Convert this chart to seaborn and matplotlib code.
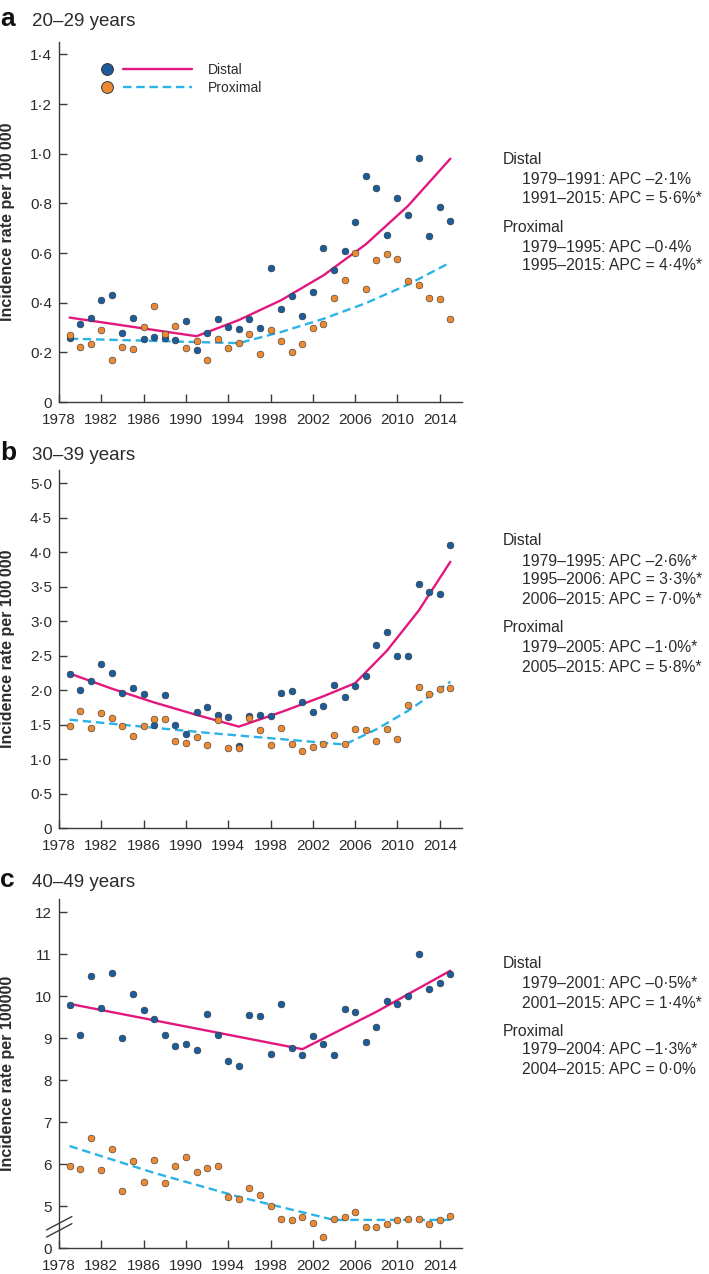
import numpy as np
import pandas as pd
import matplotlib
matplotlib.use("Agg")
import matplotlib.pyplot as plt
import seaborn as sns
from matplotlib.lines import Line2D
from matplotlib.transforms import blended_transform_factory

# ---------------- data ----------------
years = list(range(1979, 2016))

a_distal = [0.257, 0.316, 0.340, 0.410, 0.430, 0.279, 0.340, 0.254, 0.262, 0.259,
            0.249, 0.325, 0.210, 0.277, 0.335, 0.304, 0.296, 0.335, 0.300, 0.539,
            0.375, 0.426, 0.348, 0.445, 0.619, 0.532, 0.609, 0.727, 0.911, 0.863,
            0.674, 0.822, 0.755, 0.983, 0.668, 0.787, 0.731]
a_proximal = [0.271, 0.223, 0.235, 0.289, 0.171, 0.222, 0.215, 0.302, 0.388, 0.274,
              0.306, 0.218, 0.246, 0.171, 0.253, 0.218, 0.238, 0.273, 0.193, 0.289,
              0.246, 0.203, 0.235, 0.297, 0.314, 0.417, 0.493, 0.599, 0.457, 0.572,
              0.598, 0.576, 0.488, 0.472, 0.419, 0.415, 0.333]
a_distal_fit_years = [1979, 1983, 1987, 1991, 1995, 1999, 2003, 2007, 2011, 2015]
a_distal_fit = [0.34, 0.315, 0.29, 0.265, 0.33, 0.41, 0.51, 0.635, 0.79, 0.98]
a_prox_fit_years = [1979, 1987, 1995, 1999, 2003, 2007, 2011, 2015]
a_prox_fit = [0.255, 0.246, 0.237, 0.282, 0.335, 0.398, 0.473, 0.562]

b_distal = [2.232, 2.005, 2.130, 2.372, 2.246, 1.961, 2.029, 1.947, 1.493, 1.928,
            1.493, 1.362, 1.681, 1.749, 1.638, 1.604, 1.193, 1.618, 1.638, 1.618,
            1.952, 1.990, 1.826, 1.681, 1.768, 2.068, 1.899, 2.058, 2.198, 2.647,
            2.841, 2.488, 2.488, 3.536, 3.415, 3.386, 4.106]
b_proximal = [1.478, 1.700, 1.444, 1.671, 1.594, 1.483, 1.329, 1.478, 1.585, 1.580,
              1.256, 1.227, 1.324, 1.198, 1.560, 1.159, 1.159, 1.589, 1.425, 1.203,
              1.444, 1.222, 1.121, 1.174, 1.222, 1.348, 1.222, 1.430, 1.415, 1.266,
              1.440, 1.290, 1.783, 2.039, 1.937, 2.019, 2.034]
b_distal_fit_years = [1979, 1983, 1987, 1991, 1995, 1999, 2003, 2006, 2009, 2012, 2015]
b_distal_fit = [2.24, 2.02, 1.82, 1.64, 1.47, 1.68, 1.91, 2.10, 2.57, 3.15, 3.86]
b_prox_fit_years = [1979, 1992, 2005, 2008, 2011, 2015]
b_prox_fit = [1.57, 1.38, 1.21, 1.43, 1.70, 2.12]

c_distal = [9.786, 9.071, 10.49, 9.722, 10.556, 9.016, 10.056, 9.675, 9.452, 9.087,
            8.825, 8.857, 8.722, 9.579, 9.071, 8.468, 8.341, 9.563, 9.524, 8.619,
            9.810, 8.770, 8.603, 9.056, 8.857, 8.595, 9.698, 9.635, 8.913, 9.278,
            9.897, 9.825, 10.016, 11.0, 10.167, 10.325, 10.532]
c_proximal = [5.960, 5.873, 6.611, 5.865, 6.357, 5.357, 6.063, 5.571, 6.087, 5.548,
              5.960, 6.175, 5.810, 5.905, 5.960, 5.214, 5.159, 5.421, 5.262, 5.008,
              4.690, 4.667, 4.738, 4.587, 4.270, 4.683, 4.730, 4.865, 4.492, 4.508,
              4.579, 4.659, 4.698, 4.698, 4.579, 4.659, 4.762]
c_distal_fit_years = [1979, 1990, 2001, 2008, 2015]
c_distal_fit = [9.82, 9.28, 8.74, 9.63, 10.61]
c_prox_fit_years = [1979, 1987, 1995, 2004, 2015]
c_prox_fit = [6.43, 5.79, 5.22, 4.67, 4.67]

x_ticks = [1978, 1982, 1986, 1990, 1994, 1998, 2002, 2006, 2010, 2014]
a_yticks = [0, 0.2, 0.4, 0.6, 0.8, 1.0, 1.2, 1.4]
a_ytick_labels = ["0", "0·2", "0·4", "0·6", "0·8", "1·0", "1·2", "1·4"]
b_yticks = [0, 0.5, 1.0, 1.5, 2.0, 2.5, 3.0, 3.5, 4.0, 4.5, 5.0]
b_ytick_labels = ["0", "0·5", "1·0", "1·5", "2·0", "2·5", "3·0", "3·5", "4·0", "4·5", "5·0"]
c_yticks = [4.0, 5, 6, 7, 8, 9, 10, 11, 12]
c_ytick_labels = ["0", "5", "6", "7", "8", "9", "10", "11", "12"]

panel_letters = ["a", "b", "c"]
panel_titles = ["20–29 years", "30–39 years", "40–49 years"]
y_labels = ["Incidence rate per 100\u2009000", "Incidence rate per 100\u2009000",
            "Incidence rate per 100000"]
a_notes = [("Distal", 0), ("1979–1991: APC –2·1%", 1), ("1991–2015: APC = 5·6%*", 1),
           ("Proximal", 0), ("1979–1995: APC –0·4%", 1), ("1995–2015: APC = 4·4%*", 1)]
b_notes = [("Distal", 0), ("1979–1995: APC –2·6%*", 1), ("1995–2006: APC = 3·3%*", 1),
           ("2006–2015: APC = 7·0%*", 1),
           ("Proximal", 0), ("1979–2005: APC –1·0%*", 1), ("2005–2015: APC = 5·8%*", 1)]
c_notes = [("Distal", 0), ("1979–2001: APC –0·5%*", 1), ("2001–2015: APC = 1·4%*", 1),
           ("Proximal", 0), ("1979–2004: APC –1·3%*", 1), ("2004–2015: APC = 0·0%", 1)]

# ---------------- style ----------------
sns.set_theme(style="white")
plt.rcParams["font.family"] = ["Liberation Sans", "DejaVu Sans"]
TXT = "#2b2b2b"
SPINE = "#3a3a3a"
BLUE_DOT = "#1d5c9a"
ORANGE_DOT = "#ec8a34"
MAGENTA = "#e2187f"
CYAN = "#2bb3e6"
DASH = (3.6, 2.0)

W, H = 709, 1274
fig = plt.figure(figsize=(W / 100, H / 100), dpi=100)

# axes pixel boxes: (left, top, right, bottom)
boxes = [(59, 42, 462, 402), (59, 470, 462, 828), (59, 899, 462, 1248)]
title_baselines = [26, 460, 887]
note_ys = [[160, 180, 198.5, 228, 247, 265.5],
           [541, 561, 580, 599, 628, 647, 667],
           [963, 983, 1003, 1031, 1050, 1070]]

panels = [
    dict(d=a_distal, p=a_proximal, dfy=a_distal_fit_years, df=a_distal_fit,
         pfy=a_prox_fit_years, pf=a_prox_fit, yt=a_yticks, ytl=a_ytick_labels,
         ylim=(0, 1.45), notes=a_notes),
    dict(d=b_distal, p=b_proximal, dfy=b_distal_fit_years, df=b_distal_fit,
         pfy=b_prox_fit_years, pf=b_prox_fit, yt=b_yticks, ytl=b_ytick_labels,
         ylim=(0, 5.19), notes=b_notes),
    dict(d=c_distal, p=c_proximal, dfy=c_distal_fit_years, df=c_distal_fit,
         pfy=c_prox_fit_years, pf=c_prox_fit, yt=c_yticks, ytl=c_ytick_labels,
         ylim=(4.0, 12.32), notes=c_notes),
]


class DotLine:
    def __init__(self, dot_color, line_color, dashed):
        self.dot_color = dot_color
        self.line_color = line_color
        self.dashed = dashed


class DotLineHandler:
    def legend_artist(self, legend, orig_handle, fontsize, handlebox):
        x0, y0 = -handlebox.xdescent, -handlebox.ydescent
        w, h = handlebox.width, handlebox.height
        yc = y0 + h / 2
        dot = Line2D([x0 + 0.07 * w], [yc], marker="o", markersize=8.5,
                     markerfacecolor=orig_handle.dot_color, markeredgecolor="#333333",
                     markeredgewidth=0.7, linestyle="none")
        ln = Line2D([x0 + 0.25 * w, x0 + w], [yc, yc], color=orig_handle.line_color,
                    linewidth=1.7)
        if orig_handle.dashed:
            ln.set_dashes(DASH)
        for art in (dot, ln):
            art.set_transform(handlebox.get_transform())
            handlebox.add_artist(art)
        return ln


for i, (pan, box) in enumerate(zip(panels, boxes)):
    l, t, r, b = box
    ax = fig.add_axes([l / W, 1 - b / H, (r - l) / W, (b - t) / H])
    df_pts = pd.DataFrame({"year": years, "Distal": pan["d"], "Proximal": pan["p"]})
    df_dfit = pd.DataFrame({"year": pan["dfy"], "rate": pan["df"]})
    df_pfit = pd.DataFrame({"year": pan["pfy"], "rate": pan["pf"]})

    sns.lineplot(data=df_dfit, x="year", y="rate", color=MAGENTA, linewidth=1.7,
                 ax=ax, zorder=2)
    sns.lineplot(data=df_pfit, x="year", y="rate", color=CYAN, linewidth=1.7,
                 ax=ax, zorder=2)
    ax.lines[-1].set_dashes(DASH)
    sns.scatterplot(data=df_pts, x="year", y="Distal", color=BLUE_DOT, s=24,
                    edgecolor="#333333", linewidth=0.4, ax=ax, zorder=3)
    sns.scatterplot(data=df_pts, x="year", y="Proximal", color=ORANGE_DOT, s=24,
                    edgecolor="#333333", linewidth=0.4, ax=ax, zorder=3)

    ax.set_xlim(1978, 2016.1)
    ax.set_ylim(*pan["ylim"])
    ax.set_xticks(x_ticks)
    ax.set_xticklabels([str(x) for x in x_ticks])
    ax.set_yticks(pan["yt"])
    ax.set_yticklabels(pan["ytl"])
    ax.set_xlabel("")
    ax.set_ylabel(y_labels[i], fontsize=11.5, fontweight="bold", color=TXT)
    ax.yaxis.set_label_coords(-0.108, 0.5)
    for s in ["top", "right"]:
        ax.spines[s].set_visible(False)
    for s in ["left", "bottom"]:
        ax.spines[s].set_color(SPINE)
        ax.spines[s].set_linewidth(1.0)
    ax.tick_params(axis="both", direction="in", length=6, width=1.0, color=SPINE,
                   labelsize=11, labelcolor=TXT, left=True, bottom=True)
    ax.tick_params(axis="y", pad=5)
    ax.tick_params(axis="x", pad=8)
    ax.grid(False)

    # panel letter and title
    yb = 1 - title_baselines[i] / H
    fig.text(0.0, yb, panel_letters[i], fontsize=19, fontweight="bold", color="#111111",
             va="baseline", ha="left")
    fig.text(32 / W, yb, panel_titles[i], fontsize=13.5, color=TXT, va="baseline",
             ha="left")

    # notes on the right
    for (txt, lvl), yy in zip(pan["notes"], note_ys[i]):
        fig.text((503 + 19 * lvl) / W, 1 - yy / H, txt, fontsize=11.3, color=TXT,
                 va="center", ha="left")

    if i == 0:
        handles = [DotLine(BLUE_DOT, MAGENTA, False), DotLine(ORANGE_DOT, CYAN, True)]
        ax.legend(handles, ["Distal", "Proximal"],
                  handler_map={DotLine: DotLineHandler()},
                  loc="upper left", bbox_to_anchor=(0.102, 0.9425), frameon=False,
                  borderpad=0, borderaxespad=0, handlelength=6.6, handletextpad=1.15,
                  labelspacing=0.3, fontsize=10, labelcolor=TXT)

    if i == 2:
        tr = blended_transform_factory(ax.transAxes, ax.transData)
        for off in (0.0, -0.17):
            ax.plot([-0.031, 0.032], [4.43 + off, 4.75 + off], color=SPINE, lw=1.0,
                    transform=tr, clip_on=False)

fig.savefig("out.png", dpi=100)
